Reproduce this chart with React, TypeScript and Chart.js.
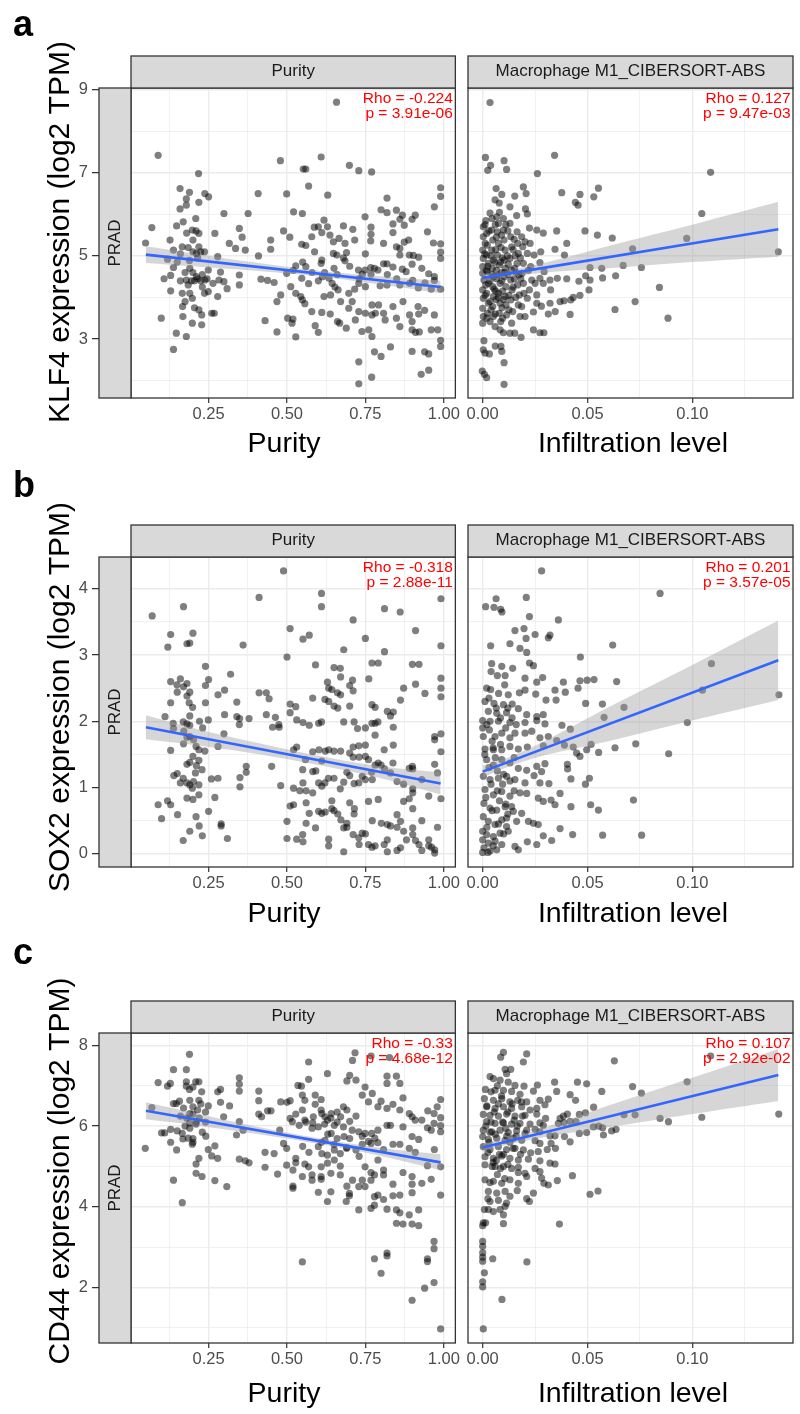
import React, { useEffect, useRef } from 'react';
import { Chart, registerables } from 'chart.js';

Chart.register(...registerables);
const FONT = "'Liberation Sans', Arial, Helvetica, sans-serif";
Chart.defaults.font.family = FONT;

type Pt = [number, number];

// ---------- axis ticks ----------
const purityTicks = [0.125, 0.25, 0.375, 0.5, 0.625, 0.75, 0.875, 1.0];
const purityMajor = [0.25, 0.5, 0.75, 1.0];
const infilTicks = [0, 0.025, 0.05, 0.075, 0.1, 0.125];
const infilMajor = [0, 0.05, 0.1];
const klf4YTicks = [2, 3, 4, 5, 6, 7, 8, 9];
const klf4YMajor = [3, 5, 7, 9];
const sox2YTicks = [0, 0.5, 1, 1.5, 2, 2.5, 3, 3.5, 4];
const sox2YMajor = [0, 1, 2, 3, 4];
const cd44YTicks = [1, 2, 3, 4, 5, 6, 7, 8];
const cd44YMajor = [2, 4, 6, 8];

// ---------- annotations ----------
const statsText = [
  ['Rho = -0.224', 'p = 3.91e-06'],
  ['Rho = 0.127', 'p = 9.47e-03'],
  ['Rho = -0.318', 'p = 2.88e-11'],
  ['Rho = 0.201', 'p = 3.57e-05'],
  ['Rho = -0.33', 'p = 4.68e-12'],
  ['Rho = 0.107', 'p = 2.92e-02'],
];

// ---------- regression lines and confidence bands ----------
const purityBandX = [0.05, 0.2, 0.4, 0.6, 0.8, 0.99];
const infilBandX = [0, 0.012, 0.03, 0.06, 0.1, 0.141];

const klf4PurityLine: Pt[] = [[0.05, 5.03], [0.99, 4.25]];
const klf4PurityUpper = [5.23, 5.06, 4.84, 4.645, 4.51, 4.4];
const klf4PurityLower = [4.83, 4.75, 4.64, 4.505, 4.31, 4.1];
const klf4MacLine: Pt[] = [[0, 4.47], [0.141, 5.64]];
const klf4MacUpper = [4.57, 4.65, 4.84, 5.24, 5.75, 6.3];
const klf4MacLower = [4.37, 4.49, 4.6, 4.7, 4.85, 4.98];

const sox2PurityLine: Pt[] = [[0.05, 1.91], [0.99, 1.06]];
const sox2PurityUpper = [2.09, 1.9, 1.68, 1.48, 1.32, 1.225];
const sox2PurityLower = [1.73, 1.645, 1.51, 1.34, 1.14, 0.895];
const sox2MacLine: Pt[] = [[0, 1.24], [0.141, 2.92]];
const sox2MacUpper = [1.33, 1.45, 1.71, 2.21, 2.85, 3.52];
const sox2MacLower = [1.15, 1.31, 1.49, 1.7, 2.01, 2.32];

const cd44PurityLine: Pt[] = [[0.05, 6.38], [0.99, 5.1]];
const cd44PurityUpper = [6.59, 6.33, 5.99, 5.7, 5.46, 5.3];
const cd44PurityLower = [6.17, 6.03, 5.81, 5.56, 5.26, 4.905];
const cd44MacLine: Pt[] = [[0, 5.47], [0.141, 7.27]];
const cd44MacUpper = [5.57, 5.7, 5.97, 6.51, 7.2, 7.915];
const cd44MacLower = [5.37, 5.54, 5.73, 5.97, 6.3, 6.625];

// ---------- scatter points ----------
const klf4PurityPts: Pt[] = [
  [0.089,7.42],[0.658,8.70],[0.479,7.29],[0.609,7.38],[0.552,7.09],[0.560,7.09],[0.699,7.18],[0.729,7.05],[0.770,7.02],[0.218,6.98],
  [0.159,6.62],[0.189,6.53],[0.238,6.50],[0.250,6.42],[0.179,6.37],[0.219,6.29],[0.179,6.22],[0.159,6.13],[0.408,6.50],[0.499,6.49],
  [0.569,6.68],[0.630,6.46],[0.819,6.39],[0.990,6.64],[0.990,6.43],[0.970,6.18],[0.800,6.11],[0.819,6.04],[0.849,6.10],[0.868,5.98],
  [0.909,5.98],[0.899,5.88],[0.860,5.88],[0.838,5.77],[0.874,5.74],[0.838,5.56],[0.948,5.58],[0.749,5.94],[0.768,5.69],[0.768,5.52],
  [0.767,5.36],[0.710,5.64],[0.680,5.72],[0.618,5.86],[0.587,5.69],[0.600,5.70],[0.629,5.70],[0.611,5.56],[0.637,5.50],[0.579,5.46],
  [0.666,5.42],[0.648,5.34],[0.716,5.38],[0.685,5.30],[0.808,5.30],[0.874,5.33],[0.967,5.31],[0.990,5.29],[0.849,5.22],[0.860,5.18],
  [0.860,5.02],[0.890,5.02],[0.920,4.97],[0.903,5.01],[0.990,5.09],[0.990,4.94],[0.899,4.80],[0.808,4.81],[0.819,4.81],[0.790,4.66],
  [0.779,4.70],[0.767,4.72],[0.749,4.66],[0.728,4.66],[0.740,4.56],[0.768,4.56],[0.838,4.73],[0.868,4.68],[0.952,4.57],[0.970,4.50],
  [0.970,4.41],[0.901,4.41],[0.990,4.20],[0.960,4.20],[0.919,4.23],[0.891,4.34],[0.860,4.30],[0.819,4.30],[0.797,4.28],[0.750,4.26],
  [0.729,4.34],[0.716,4.20],[0.697,4.10],[0.663,4.18],[0.653,4.25],[0.644,4.34],[0.634,4.46],[0.613,4.50],[0.611,4.90],[0.609,4.82],
  [0.685,4.88],[0.690,5.08],[0.659,5.02],[0.648,5.06],[0.588,5.10],[0.560,5.25],[0.547,5.28],[0.528,4.76],[0.560,4.74],[0.547,4.46],
  [0.569,4.33],[0.528,4.10],[0.544,4.02],[0.512,4.26],[0.499,4.58],[0.509,5.45],[0.489,5.60],[0.521,6.06],[0.549,6.02],[0.448,5.38],
  [0.448,5.16],[0.409,5.00],[0.417,4.44],[0.438,4.41],[0.459,4.36],[0.480,4.06],[0.468,3.90],[0.502,3.50],[0.519,3.48],[0.516,3.38],
  [0.468,3.17],[0.528,3.05],[0.549,3.94],[0.557,3.85],[0.579,3.66],[0.590,3.32],[0.600,3.16],[0.611,3.64],[0.638,3.60],[0.618,4.02],
  [0.639,4.06],[0.671,3.90],[0.697,3.74],[0.708,3.90],[0.729,3.66],[0.750,3.62],[0.771,3.58],[0.771,3.82],[0.792,3.82],[0.782,3.62],
  [0.661,3.42],[0.668,3.38],[0.689,3.26],[0.718,3.46],[0.739,3.18],[0.761,3.22],[0.771,3.06],[0.808,3.62],[0.813,3.46],[0.838,3.78],
  [0.849,3.50],[0.860,3.30],[0.870,3.90],[0.891,3.58],[0.899,3.42],[0.918,3.78],[0.939,3.69],[0.920,3.60],[0.899,3.22],[0.910,3.16],
  [0.922,3.17],[0.960,3.22],[0.981,3.22],[0.970,3.58],[0.990,2.97],[0.990,2.82],[0.830,2.81],[0.779,2.69],[0.800,2.58],[0.729,2.45],
  [0.899,2.70],[0.939,2.69],[0.952,2.64],[0.770,2.08],[0.729,1.92],[0.952,2.25],[0.928,2.15],[0.888,5.38],
  [0.049,5.31],[0.069,5.68],[0.099,3.50],[0.108,4.45],[0.119,4.92],[0.127,5.38],[0.129,4.53],[0.129,4.16],[0.138,5.14],[0.138,4.72],
  [0.148,5.72],[0.147,3.14],[0.138,2.75],[0.169,5.82],[0.166,5.22],[0.166,4.10],[0.167,3.78],[0.168,3.54],[0.179,3.06],[0.179,4.42],
  [0.189,4.89],[0.190,4.70],[0.198,5.62],[0.200,5.38],[0.198,3.98],[0.198,3.38],[0.209,5.90],[0.211,5.06],[0.211,4.50],[0.219,5.54],
  [0.219,5.22],[0.219,3.70],[0.228,3.58],[0.228,3.34],[0.237,5.10],[0.238,4.42],[0.237,4.10],[0.249,4.66],[0.249,4.14],[0.260,3.62],
  [0.268,3.62],[0.270,5.54],[0.279,4.98],[0.279,4.02],[0.288,4.61],[0.299,6.02],[0.299,4.38],[0.309,4.21],[0.316,5.30],[0.336,5.18],
  [0.348,5.66],[0.348,4.54],[0.348,4.30],[0.357,5.45],[0.367,5.14],[0.376,6.02],[0.430,3.44],[0.283,4.42],[0.264,4.34],
  [0.150,4.85],[0.160,5.05],[0.175,4.60],[0.185,4.30],[0.195,4.40],[0.205,4.40],[0.215,4.45],[0.225,4.40],[0.185,5.20],[0.200,5.10],
  [0.215,4.95],[0.230,4.55],[0.175,3.90],[0.205,3.75],[0.190,4.10],[0.230,4.25],[0.160,4.40],[0.245,4.45],[0.200,4.60],[0.180,5.55],
  [0.210,5.60],[0.225,5.10],[0.620,4.60],[0.650,4.70],[0.700,4.75],[0.730,4.45],[0.660,4.55],[0.580,4.60],[0.600,4.40],[0.520,4.65],
  [0.550,4.85],[0.820,4.55],[0.850,4.45],[0.880,4.62],[0.930,4.70],[0.940,4.35],[0.680,4.95],[0.750,5.05],
];

const klf4MacPts: Pt[] = [
  [0.0035,8.69],[0.0013,7.37],[0.0038,7.18],[0.0024,7.06],[0.0102,7.29],[0.0114,7.08],[0.0343,7.42],[0.0261,6.98],[0.1087,7.01],[0.0064,6.62],
  [0.0091,6.48],[0.0194,6.66],[0.0207,6.50],[0.0153,6.44],[0.0377,6.52],[0.0464,6.48],[0.0552,6.63],[0.0530,6.42],[0.0442,6.29],[0.0455,6.22],
  [0.1045,6.02],[0.0059,6.35],[0.0079,6.27],[0.0130,6.18],[0.0204,6.13],[0.0035,6.03],[0.0213,6.01],[0.0162,5.97],[0.0099,5.90],[0.0011,5.75],
  [0.0075,5.78],[0.0223,5.67],[0.0258,5.62],[0.0289,5.55],[0.0353,5.60],[0.0488,5.60],[0.0547,5.50],[0.0618,5.43],[0.0973,5.42],[0.1410,5.10],
  [0.0715,5.17],[0.0757,4.72],[0.0670,4.77],[0.0568,4.70],[0.0512,4.72],[0.0634,4.52],[0.0572,4.47],[0.0491,4.52],[0.0512,4.42],[0.0459,4.39],
  [0.0401,4.45],[0.0356,4.46],[0.0321,4.42],[0.0293,4.62],[0.0273,4.46],[0.0345,5.16],[0.0401,5.30],[0.0390,5.02],[0.0277,5.10],[0.0245,5.02],
  [0.0213,5.06],[0.0273,4.84],[0.0218,4.65],[0.0194,4.34],[0.0223,4.18],[0.0258,4.06],[0.0280,3.79],[0.0242,3.65],[0.0202,3.54],[0.0242,3.22],
  [0.0273,3.15],[0.0292,3.15],[0.0324,4.18],[0.0321,3.86],[0.0313,3.60],[0.0346,3.66],[0.0369,3.90],[0.0388,3.92],[0.0420,3.94],[0.0432,4.00],
  [0.0464,4.05],[0.0507,4.18],[0.0417,3.59],[0.0631,3.71],[0.0727,3.90],[0.0843,4.24],[0.0884,3.50],[0.0186,3.78],[0.0183,3.04],[0.0153,3.14],
  [0.0130,3.14],[0.0099,3.15],[0.0083,3.22],[0.0060,2.83],[0.0087,2.82],[0.0091,2.70],[0.0102,2.43],[0.0006,2.96],[0.0003,2.74],[0.0011,2.66],
  [0.0032,2.64],[-0.0002,2.23],[0.0008,2.15],[0.0019,2.07],[0.0102,1.91],
  [0.0003,5.70],[0.0003,5.46],[0.0000,5.14],[0.0003,4.94],[0.0000,4.74],[0.0000,4.58],[0.0006,4.42],[0.0000,4.18],[0.0003,3.98],[0.0000,3.74],
  [0.0003,3.54],[0.0000,3.38],[0.0019,5.54],[0.0022,5.26],[0.0019,5.02],[0.0027,4.82],[0.0022,4.62],[0.0027,4.34],[0.0019,4.10],[0.0027,3.86],
  [0.0022,3.62],[0.0035,3.42],[0.0043,5.62],[0.0048,5.38],[0.0043,5.14],[0.0051,4.90],[0.0046,4.70],[0.0051,4.50],[0.0048,4.26],[0.0051,4.02],
  [0.0048,3.78],[0.0051,3.54],[0.0059,3.30],[0.0067,5.94],[0.0070,5.58],[0.0075,5.30],[0.0070,5.02],[0.0079,4.78],[0.0075,4.54],[0.0083,4.34],
  [0.0076,4.10],[0.0083,3.86],[0.0079,3.62],[0.0086,3.42],[0.0099,5.62],[0.0102,5.38],[0.0107,5.14],[0.0102,4.90],[0.0108,4.70],[0.0103,4.50],
  [0.0111,4.26],[0.0107,4.02],[0.0111,3.82],[0.0114,3.58],[0.0130,5.78],[0.0134,5.46],[0.0138,5.22],[0.0130,4.94],[0.0137,4.66],[0.0134,4.42],
  [0.0140,4.18],[0.0134,3.94],[0.0143,3.66],[0.0138,3.38],[0.0164,5.58],[0.0167,5.30],[0.0170,5.06],[0.0164,4.82],[0.0173,4.54],[0.0167,4.30],
  [0.0175,4.06],[0.0170,3.82],[0.0178,3.54],[0.0186,5.46],[0.0191,5.22],[0.0194,4.82],[0.0188,4.58],[0.0197,4.10],[0.0202,5.34],[0.0226,5.30],
  [0.0229,4.74],[0.0234,4.42],[0.0250,4.34],[0.0258,3.86],[0.0213,3.98],[0.0289,4.34],
  [0.0015,5.85],[0.0030,5.60],[0.0012,5.30],[0.0040,5.00],[0.0018,4.65],[0.0035,4.40],[0.0012,4.05],[0.0040,3.70],[0.0060,5.75],[0.0065,5.45],
  [0.0062,5.15],[0.0058,4.85],[0.0066,4.45],[0.0062,4.15],[0.0064,3.95],[0.0090,5.50],[0.0088,5.20],[0.0094,4.95],[0.0090,4.60],[0.0092,4.40],
  [0.0095,4.15],[0.0092,3.75],[0.0120,5.60],[0.0118,5.00],[0.0122,4.80],[0.0120,4.55],[0.0125,4.05],[0.0150,5.40],[0.0155,5.00],[0.0152,4.70],
  [0.0150,4.45],[0.0158,4.00],[0.0180,4.95],[0.0182,4.45],
  [0.0010,5.05],[0.0025,4.75],[0.0045,4.55],[0.0065,4.65],[0.0085,4.85],[0.0105,4.60],[0.0015,4.30],[0.0055,4.20],[0.0075,4.00],[0.0100,3.95],
  [0.0035,3.90],[0.0020,3.50],[0.0060,3.60],[0.0095,3.50],[0.0125,3.70],[0.0145,4.25],[0.0160,4.60],[0.0145,5.15],[0.0110,5.75],[0.0080,6.05],
  [0.0045,5.90],
];

const sox2PurityPts: Pt[] = [
  [0.489,4.27],[0.070,3.59],[0.170,3.73],[0.411,3.87],[0.610,3.93],[0.610,3.73],[0.811,3.70],[0.861,3.65],[0.991,3.85],[0.711,3.53],
  [0.510,3.40],[0.571,3.30],[0.551,3.24],[0.750,3.25],[0.910,3.37],[0.991,3.14],[0.129,3.31],[0.120,3.12],[0.200,3.33],[0.181,3.17],
  [0.190,3.18],[0.360,3.15],[0.500,2.97],[0.681,3.08],[0.811,3.05],[0.240,2.83],[0.591,2.85],[0.771,2.88],[0.791,2.88],[0.900,2.86],
  [0.921,2.86],[0.320,2.71],[0.650,2.81],[0.670,2.80],[0.671,2.67],[0.629,2.59],[0.709,2.62],[0.761,2.64],[0.991,2.65],[0.991,2.50],
  [0.991,2.37],[0.910,2.56],[0.872,2.50],[0.940,2.42],[0.862,2.32],[0.700,2.54],[0.711,2.46],[0.643,2.48],[0.633,2.50],[0.661,2.43],
  [0.671,2.40],[0.621,2.33],[0.633,2.30],[0.582,2.35],[0.650,2.23],[0.662,2.20],[0.700,2.23],[0.771,2.25],[0.781,2.21],[0.820,2.15],
  [0.839,2.14],[0.830,2.08],[0.781,1.97],[0.790,1.99],[0.771,1.97],[0.839,1.91],[0.714,1.99],[0.725,1.89],[0.750,1.90],[0.781,1.79],
  [0.839,1.64],[0.681,1.99],[0.610,1.99],[0.601,1.97],[0.571,1.94],[0.551,1.98],[0.531,2.02],[0.510,2.13],[0.528,2.22],[0.510,2.26],
  [0.463,2.06],[0.474,1.95],[0.475,1.91],[0.454,1.91],[0.434,2.10],[0.443,2.34],[0.434,2.43],[0.411,2.43],[0.379,2.04],[0.349,2.04],
  [0.348,1.95],[0.340,2.07],[0.340,2.29],[0.301,2.47],[0.280,2.40],[0.301,2.10],[0.299,1.81],[0.280,1.62],[0.250,2.63],[0.240,2.54],
  [0.240,2.28],[0.249,2.02],[0.238,1.55],[0.221,2.00],[0.231,1.90],[0.219,1.57],[0.219,1.41],[0.211,1.33],[0.219,0.89],[0.229,1.27],
  [0.208,1.22],[0.210,0.56],[0.200,0.82],[0.181,0.84],[0.181,1.07],[0.190,1.04],[0.198,0.99],[0.202,1.09],[0.219,1.04],[0.181,1.35],
  [0.190,1.38],[0.200,1.47],[0.210,1.62],[0.202,1.72],[0.190,1.77],[0.181,1.76],[0.170,1.66],[0.171,1.85],[0.181,1.96],[0.190,1.94],
  [0.190,2.08],[0.199,2.21],[0.188,2.28],[0.181,2.38],[0.190,2.44],[0.181,2.57],[0.170,2.52],[0.150,2.44],[0.149,2.55],[0.160,2.64],
  [0.129,2.60],[0.129,2.28],[0.111,2.07],[0.137,1.97],[0.138,1.89],[0.169,1.99],[0.129,1.56],[0.139,1.18],[0.150,1.21],[0.160,1.07],
  [0.169,1.14],[0.089,0.74],[0.129,0.74],[0.119,0.80],[0.100,0.53],[0.151,0.59],[0.190,0.34],[0.169,0.20],[0.220,0.42],[0.230,0.27],
  [0.250,0.64],[0.270,0.85],[0.259,1.13],[0.280,1.14],[0.290,0.45],[0.290,0.42],[0.310,0.23],[0.350,1.15],[0.350,1.01],[0.370,1.32],
  [0.370,1.23],[0.451,1.32],[0.480,1.03],[0.500,0.49],[0.500,0.23],[0.510,0.72],[0.521,0.74],[0.531,0.22],[0.550,0.29],[0.551,0.18],
  [0.561,0.77],[0.561,0.46],[0.571,0.61],[0.582,0.92],[0.591,0.39],[0.601,0.64],[0.611,0.61],[0.622,0.63],[0.633,0.22],[0.633,0.12],
  [0.643,0.68],[0.643,0.80],[0.650,0.65],[0.662,0.60],[0.672,0.51],[0.681,0.39],[0.681,0.03],[0.691,0.46],[0.691,0.40],[0.700,0.77],
  [0.711,0.29],[0.714,0.60],[0.715,0.68],[0.729,0.24],[0.730,0.14],[0.740,0.31],[0.750,0.30],[0.760,0.79],[0.760,0.14],[0.771,0.10],
  [0.781,0.12],[0.772,0.50],[0.791,0.82],[0.801,0.46],[0.820,0.44],[0.820,0.21],[0.820,0.03],[0.810,0.14],[0.830,0.42],[0.851,0.59],
  [0.851,0.40],[0.862,0.49],[0.862,0.09],[0.851,0.05],[0.872,0.34],[0.872,0.79],[0.881,0.21],[0.890,0.83],[0.901,0.39],[0.901,0.68],
  [0.901,0.29],[0.910,0.20],[0.921,0.14],[0.930,0.50],[0.930,0.05],[0.952,0.21],[0.961,0.10],[0.971,0.06],[0.971,0.01],[0.980,0.40],
  [0.991,0.83],[0.952,0.12],[0.890,1.29],[0.900,1.32],[0.901,0.98],[0.901,0.92],[0.838,1.37],[0.800,1.34],[0.811,1.28],[0.781,1.34],
  [0.770,1.23],[0.772,1.12],[0.750,1.12],[0.740,1.17],[0.729,1.07],[0.714,1.06],[0.700,1.18],[0.711,1.61],[0.729,1.63],[0.750,1.64],
  [0.691,1.23],[0.681,1.08],[0.670,0.98],[0.650,1.14],[0.632,1.14],[0.621,1.07],[0.611,1.02],[0.601,1.07],[0.592,1.25],[0.611,1.40],
  [0.582,1.24],[0.559,1.42],[0.550,1.27],[0.551,1.07],[0.541,0.95],[0.561,0.95],[0.521,0.99],[0.521,1.57],[0.531,1.61],[0.582,1.54],
  [0.602,1.57],[0.622,1.55],[0.633,1.57],[0.650,1.55],[0.671,1.55],[0.700,1.52],[0.711,1.46],[0.730,1.46],[0.750,1.47],[0.760,1.42],
  [0.791,1.37],[0.810,1.57],[0.830,1.22],[0.851,1.09],[0.872,1.05],[0.971,1.35],[0.971,1.72],[0.971,1.77],[0.991,1.81],[0.991,1.54],
  [0.980,1.22],[0.952,0.87],[0.930,1.12],[0.901,1.28],
];

const sox2MacPts: Pt[] = [
  [0.0281,4.27],[0.0846,3.93],[0.0014,3.73],[0.0054,3.72],[0.0064,3.85],[0.0086,3.69],[0.0092,3.65],[0.0208,3.87],[0.0223,3.58],[0.0361,3.53],
  [0.0154,3.37],[0.0197,3.40],[0.0250,3.31],[0.0321,3.30],[0.0313,3.26],[0.0130,3.17],[0.0207,3.25],[0.0178,3.10],[0.0210,3.04],[0.0038,3.14],
  [0.0620,3.15],[0.0466,2.97],[0.1091,2.87],[0.0043,2.87],[0.0091,2.83],[0.0143,2.80],[0.0223,2.88],[0.0242,2.84],[0.0070,2.69],[0.0107,2.69],
  [0.0202,2.65],[0.0258,2.59],[0.0286,2.66],[0.0385,2.59],[0.0464,2.61],[0.0498,2.62],[0.0531,2.63],[0.0639,2.60],[0.0019,2.50],[0.0038,2.48],
  [0.0076,2.42],[0.0122,2.40],[0.0175,2.43],[0.0202,2.47],[0.0253,2.41],[0.0302,2.32],[0.0345,2.47],[0.0394,2.44],[0.0455,2.50],[0.0350,2.32],
  [0.0491,2.27],[0.0571,2.26],[0.0674,2.21],[0.1048,2.47],[0.1413,2.40],[0.0579,2.06],[0.0976,1.98],[0.0011,2.30],[0.0054,2.27],[0.0099,2.25],
  [0.0141,2.26],[0.0027,2.15],[0.0067,2.12],[0.0114,2.13],[0.0170,2.19],[0.0210,2.10],[0.0258,2.07],[0.0289,2.10],[0.0297,1.96],[0.0258,2.01],
  [0.0202,1.98],[0.0000,2.01],[0.0035,2.00],[0.0075,2.00],[0.0130,1.98],[0.0000,1.90],[0.0003,1.77],[0.0032,1.87],[0.0059,1.77],[0.0091,1.82],
  [0.0130,1.75],[0.0154,1.82],[0.0202,1.82],[0.0234,1.85],[0.0273,1.75],[0.0313,1.77],[0.0378,1.94],[0.0418,1.88],[0.0353,1.71],[0.0390,1.64],
  [0.0289,1.63],[0.0011,1.58],[0.0051,1.57],[0.0091,1.57],[0.0130,1.62],[0.0170,1.58],[0.0213,1.61],[0.0432,1.61],[0.0448,1.52],[0.0464,1.47],
  [0.0496,1.57],[0.0517,1.65],[0.0553,1.53],[0.0631,1.60],[0.0730,1.66],[0.0887,1.51],[0.0019,1.42],[0.0051,1.34],[0.0091,1.42],[0.0130,1.37],
  [0.0170,1.29],[0.0210,1.26],[0.0258,1.32],[0.0297,1.36],[0.0281,1.24],[0.0245,1.18],[0.0404,1.35],[0.0405,1.28],[0.0003,1.17],[0.0035,1.12],
  [0.0075,1.14],[0.0114,1.17],[0.0154,1.12],[0.0202,1.07],[0.0273,1.07],[0.0316,1.06],[0.0421,1.13],[0.0509,1.14],[0.0490,1.05],[0.0011,0.97],
  [0.0051,0.89],[0.0091,0.94],[0.0130,0.87],[0.0178,0.92],[0.0210,0.91],[0.0265,0.84],[0.0289,0.79],[0.0326,0.81],[0.0345,0.74],[0.0369,0.91],
  [0.0421,0.71],[0.0515,0.74],[0.0552,0.66],[0.0719,0.81],[0.0006,0.76],[0.0035,0.69],[0.0067,0.66],[0.0107,0.71],[0.0146,0.64],[0.0186,0.61],
  [0.0218,0.49],[0.0242,0.46],[0.0265,0.44],[0.0003,0.56],[0.0027,0.49],[0.0059,0.44],[0.0091,0.51],[0.0114,0.41],[0.0000,0.34],[0.0019,0.29],
  [0.0051,0.26],[0.0083,0.31],[0.0122,0.34],[0.0000,0.21],[0.0027,0.16],[0.0059,0.19],[0.0091,0.14],[0.0006,0.09],[0.0035,0.04],[0.0067,0.06],
  [0.0000,0.02],[0.0154,0.11],[0.0170,0.06],[0.0213,0.18],[0.0258,0.14],[0.0289,0.27],[0.0329,0.20],[0.0369,0.38],[0.0429,0.29],[0.0572,0.28],
  [0.0758,0.28],[0.0114,0.54],[0.0162,0.49],[0.0138,0.71],
  [0.0020,1.95],[0.0045,1.70],[0.0085,1.65],[0.0110,1.90],[0.0060,1.45],[0.0100,1.20],[0.0040,1.05],[0.0080,0.80],[0.0120,0.60],[0.0150,1.45],
  [0.0160,1.95],[0.0140,2.05],[0.0030,2.35],[0.0070,0.95],[0.0100,0.30],[0.0050,0.12],
  [0.0010,1.50],[0.0030,1.30],[0.0050,1.60],[0.0070,1.25],[0.0095,1.05],[0.0015,0.85],[0.0045,0.65],[0.0075,0.45],[0.0020,0.40],[0.0110,0.75],
  [0.0130,1.10],[0.0150,0.95],[0.0065,2.20],[0.0085,2.05],[0.0120,2.20],[0.0040,2.75],[0.0105,2.55],[0.0025,0.02],
];

const cd44PurityPts: Pt[] = [
  [0.048,5.45],[0.069,6.46],[0.089,7.08],[0.100,5.83],[0.110,5.83],[0.119,6.99],[0.128,7.06],[0.129,5.92],[0.129,5.60],[0.138,4.66],
  [0.138,7.40],[0.138,6.56],[0.147,6.56],[0.148,5.41],[0.157,6.62],[0.166,5.82],[0.166,4.10],[0.168,5.68],[0.179,7.40],[0.179,7.10],
  [0.179,6.99],[0.189,7.78],[0.189,6.91],[0.190,6.64],[0.190,6.31],[0.190,6.08],[0.200,6.48],[0.200,6.97],[0.200,5.69],[0.198,5.55],
  [0.209,7.10],[0.211,6.11],[0.210,5.06],[0.210,4.83],[0.219,7.10],[0.219,6.64],[0.219,5.20],[0.228,6.85],[0.229,4.75],[0.240,6.35],
  [0.241,5.75],[0.249,6.50],[0.249,5.42],[0.260,5.26],[0.270,4.65],[0.270,5.51],[0.279,5.20],[0.279,6.85],[0.288,6.91],[0.288,6.59],
  [0.298,6.23],[0.317,6.50],[0.308,4.50],[0.348,7.20],[0.348,7.04],[0.348,6.87],[0.348,6.11],[0.348,5.18],[0.367,5.14],[0.379,5.09],
  [0.339,5.78],[0.360,5.90],[0.410,6.87],[0.410,6.63],[0.410,6.30],[0.419,6.23],[0.438,6.38],[0.449,6.38],[0.430,5.35],[0.430,4.98],
  [0.459,5.32],[0.470,4.81],[0.477,5.90],[0.480,6.60],[0.500,6.59],[0.510,6.63],[0.489,5.57],[0.499,5.45],[0.499,5.03],[0.519,4.91],
  [0.519,4.51],[0.519,4.46],[0.510,6.19],[0.517,6.11],[0.528,6.30],[0.528,5.20],[0.528,5.09],[0.535,7.01],[0.546,6.99],[0.549,6.77],
  [0.557,6.64],[0.549,6.40],[0.557,6.15],[0.539,6.02],[0.569,7.59],[0.569,7.16],[0.590,6.77],[0.590,6.54],[0.609,6.66],[0.609,6.40],
  [0.584,6.23],[0.582,6.08],[0.600,5.98],[0.629,7.30],[0.611,6.31],[0.621,6.23],[0.629,6.15],[0.641,6.31],[0.660,6.35],[0.671,6.23],
  [0.651,6.02],[0.680,6.48],[0.691,6.40],[0.700,7.26],[0.691,7.12],[0.720,7.14],[0.709,7.63],[0.717,7.82],[0.768,7.74],[0.827,7.70],
  [0.819,7.24],[0.819,7.06],[0.849,7.24],[0.860,7.06],[0.749,6.97],[0.740,6.77],[0.772,6.81],[0.760,6.60],[0.800,6.62],[0.790,6.48],
  [0.819,6.44],[0.838,6.54],[0.870,6.70],[0.860,6.40],[0.890,6.31],[0.909,6.15],[0.899,6.23],[0.930,6.15],[0.949,6.38],[0.969,6.31],
  [0.979,6.48],[0.990,6.66],[0.990,6.21],[0.948,5.96],[0.969,6.07],[0.990,6.01],[0.990,5.86],[0.960,5.90],[0.899,5.74],[0.920,5.67],
  [0.870,5.98],[0.830,6.02],[0.819,6.02],[0.790,5.90],[0.770,5.82],[0.749,5.82],[0.729,5.86],[0.708,5.90],[0.700,5.69],[0.682,5.74],
  [0.660,5.69],[0.641,5.82],[0.621,5.65],[0.600,5.49],[0.611,5.32],[0.629,5.28],[0.651,5.41],[0.670,5.32],[0.691,5.47],[0.720,5.41],
  [0.740,5.55],[0.768,5.57],[0.790,5.59],[0.808,5.42],[0.838,5.55],[0.860,5.55],[0.890,5.45],[0.909,5.35],[0.970,5.42],[0.948,5.02],
  [0.990,4.99],[0.990,4.29],[0.960,4.68],[0.930,4.58],[0.899,4.75],[0.899,4.56],[0.899,4.35],[0.870,4.85],[0.860,4.29],[0.838,4.56],
  [0.838,4.27],[0.808,4.91],[0.808,4.79],[0.790,5.16],[0.779,4.79],[0.768,4.85],[0.768,4.66],[0.749,4.99],[0.749,4.50],[0.740,4.66],
  [0.729,4.50],[0.709,4.66],[0.691,4.51],[0.699,4.33],[0.699,4.27],[0.689,4.13],[0.670,4.79],[0.670,5.01],[0.651,5.16],[0.640,4.83],
  [0.629,5.08],[0.609,4.99],[0.609,4.75],[0.609,4.68],[0.600,4.36],[0.580,4.79],[0.580,4.66],[0.569,4.99],[0.557,5.06],[0.549,4.75],
  [0.640,4.37],[0.629,4.13],[0.729,3.92],[0.768,3.96],[0.779,4.04],[0.779,4.25],[0.790,4.29],[0.808,4.18],[0.819,3.94],[0.849,3.92],
  [0.860,3.85],[0.849,3.59],[0.870,3.57],[0.890,3.80],[0.899,3.57],[0.920,3.53],[0.920,3.92],[0.779,2.71],[0.819,2.85],[0.819,2.78],
  [0.800,2.35],[0.948,2.71],[0.948,2.64],[0.969,3.14],[0.969,2.96],[0.969,2.12],[0.939,1.98],[0.899,1.68],[0.990,0.97],[0.549,2.63],
  [0.170,6.45],[0.180,6.20],[0.190,5.95],[0.200,6.30],[0.210,6.05],[0.220,6.20],[0.230,5.85],[0.185,5.70],[0.200,5.60],[0.215,6.40],
  [0.225,6.55],[0.175,6.00],[0.240,6.10],[0.150,5.88],[0.160,6.25],[0.560,6.10],[0.580,5.95],[0.620,6.05],[0.640,6.20],[0.660,6.10],
  [0.680,5.98],[0.700,6.12],[0.720,6.25],[0.740,5.75],[0.760,5.62],[0.780,5.70],[0.630,5.80],[0.650,5.55],[0.610,5.60],[0.570,5.35],
  [0.690,5.45],[0.730,5.25],[0.550,5.50],
];

const cd44MacPts: Pt[] = [
  [0.0099,7.83],[0.0086,7.71],[0.0210,7.79],[0.0194,7.59],[0.0628,7.62],[0.1087,7.74],[0.0107,7.41],[0.0134,7.41],[0.0114,7.30],[0.0035,7.23],
  [0.0051,7.18],[0.0083,7.14],[0.0122,7.09],[0.0154,7.01],[0.0197,6.99],[0.0261,7.02],[0.0343,7.09],[0.0452,7.09],[0.0496,7.05],[0.0715,6.98],
  [0.0975,7.10],[0.0013,6.91],[0.0059,6.89],[0.0099,6.89],[0.0138,6.86],[0.0178,6.79],[0.0242,6.87],[0.0353,6.86],[0.0568,6.86],[0.0757,6.82],
  [0.0417,6.78],[0.0008,6.68],[0.0051,6.64],[0.0091,6.68],[0.0130,6.60],[0.0167,6.64],[0.0210,6.60],[0.0273,6.64],[0.0313,6.67],[0.0443,6.64],
  [0.0019,6.48],[0.0059,6.44],[0.0099,6.48],[0.0138,6.44],[0.0186,6.48],[0.0226,6.40],[0.0258,6.44],[0.0297,6.53],[0.0529,6.47],[0.0003,6.29],
  [0.0035,6.27],[0.0075,6.25],[0.0114,6.30],[0.0154,6.25],[0.0202,6.27],[0.0258,6.30],[0.0300,6.19],[0.0369,6.19],[0.0385,6.25],[0.0404,6.30],
  [0.0461,6.29],[0.0490,6.33],[0.0674,6.28],[0.0727,6.28],[0.0846,6.19],[0.0886,6.11],[0.1045,6.22],[0.1412,6.30],[0.0019,6.11],[0.0059,6.07],
  [0.0099,6.08],[0.0138,6.05],[0.0178,6.07],[0.0226,6.05],[0.0273,6.08],[0.0289,6.02],[0.0361,6.07],[0.0388,6.09],[0.0417,6.12],[0.0445,6.11],
  [0.0528,5.98],[0.0553,6.00],[0.0572,5.96],[0.0615,5.88],[0.0636,5.92],[0.0003,5.90],[0.0043,5.86],[0.0083,5.90],[0.0122,5.84],[0.0162,5.88],
  [0.0202,5.82],[0.0250,5.92],[0.0273,5.86],[0.0321,5.76],[0.0345,5.76],[0.0390,5.74],[0.0417,5.61],[0.0461,5.82],[0.0496,5.84],[0.0576,5.78],
  [0.0000,5.74],[0.0027,5.67],[0.0067,5.70],[0.0107,5.65],[0.0146,5.70],[0.0186,5.65],[0.0250,5.64],[0.0273,5.57],[0.0326,5.57],[0.0347,5.45],
  [0.0003,5.49],[0.0035,5.42],[0.0075,5.49],[0.0114,5.42],[0.0154,5.45],[0.0194,5.41],[0.0229,5.34],[0.0265,5.37],[0.0308,5.42],[0.0011,5.24],
  [0.0051,5.20],[0.0091,5.26],[0.0130,5.20],[0.0170,5.16],[0.0218,5.18],[0.0273,5.14],[0.0321,5.08],[0.0345,5.06],[0.0011,5.04],[0.0059,5.00],
  [0.0099,5.00],[0.0138,4.95],[0.0170,4.98],[0.0202,4.83],[0.0250,4.95],[0.0273,4.87],[0.0281,4.71],[0.0292,4.58],[0.0313,4.54],[0.0356,4.65],
  [0.0428,4.77],[0.0011,4.67],[0.0051,4.63],[0.0091,4.58],[0.0130,4.67],[0.0170,4.58],[0.0210,4.75],[0.0242,4.34],[0.0027,4.38],[0.0067,4.34],
  [0.0107,4.38],[0.0130,4.26],[0.0165,4.40],[0.0512,4.31],[0.0550,4.39],[0.0035,4.13],[0.0075,4.16],[0.0114,4.09],[0.0210,4.20],[0.0223,4.13],
  [0.0008,3.93],[0.0027,3.93],[0.0051,3.88],[0.0083,3.93],[0.0107,4.01],[0.0099,3.80],[0.0003,3.60],[0.0000,3.53],[0.0014,3.60],[0.0099,3.58],
  [0.0366,3.57],[0.0000,3.14],[0.0000,3.02],[0.0000,2.86],[0.0000,2.75],[0.0048,2.71],[0.0000,2.65],[0.0008,2.36],[0.0000,2.14],[0.0000,2.01],
  [0.0211,2.63],[0.0092,1.70],[0.0003,0.97],
  [0.0020,6.50],[0.0040,6.10],[0.0060,5.80],[0.0030,5.60],[0.0080,5.30],[0.0050,5.10],[0.0070,4.80],[0.0120,6.35],[0.0110,5.95],[0.0130,5.60],
  [0.0100,5.30],[0.0120,5.05],[0.0150,6.15],[0.0160,5.75],[0.0180,5.30],[0.0170,4.85],[0.0090,6.75],[0.0140,6.55],[0.0190,6.25],[0.0210,5.90],
  [0.0040,6.85],[0.0070,7.00],
  [0.0015,6.00],[0.0035,5.85],[0.0055,6.35],[0.0075,6.55],[0.0095,6.10],[0.0115,5.75],[0.0025,5.35],[0.0045,5.00],[0.0065,5.15],[0.0085,4.95],
  [0.0105,4.70],[0.0035,4.60],[0.0025,4.20],[0.0145,5.45],[0.0165,6.00],[0.0185,6.60],
];

// ---------- layout ----------
interface Spec {
  side: 'left' | 'right';
  cx: number; cy: number; cw: number; ch: number;
  area: { left: number; top: number; right: number; bottom: number };
  xMin: number; xMax: number; xTicks: number[]; xMajor: number[];
  yMin: number; yMax: number; yTicks: number[]; yMajor: number[];
  pts: Pt[]; line: Pt[]; bandX: number[]; upper: number[]; lower: number[];
  stats: string[]; stripTop: string; xTitle: string; xTitleX: number; xTitleDy: number;
  letter?: string; letterY?: number; yTitle?: string; yTitleY?: number;
}

const rows = [
  { cy: 0, ch: 470, top: 88, bottom: 398, yMin: 1.58, yMax: 9.04, yTicks: klf4YTicks, yMajor: klf4YMajor,
    letter: 'a', letterY: 36, yTitle: 'KLF4 expression (log2 TPM)', yTitleY: 232, xDy: 54,
    left: [klf4PurityPts, klf4PurityLine, klf4PurityUpper, klf4PurityLower],
    right: [klf4MacPts, klf4MacLine, klf4MacUpper, klf4MacLower] },
  { cy: 470, ch: 470, top: 87, bottom: 397, yMin: -0.2, yMax: 4.48, yTicks: sox2YTicks, yMajor: sox2YMajor,
    letter: 'b', letterY: 27, yTitle: 'SOX2 expression (log2 TPM)', yTitleY: 227, xDy: 54.5,
    left: [sox2PurityPts, sox2PurityLine, sox2PurityUpper, sox2PurityLower],
    right: [sox2MacPts, sox2MacLine, sox2MacUpper, sox2MacLower] },
  { cy: 940, ch: 474, top: 93, bottom: 403, yMin: 0.62, yMax: 8.31, yTicks: cd44YTicks, yMajor: cd44YMajor,
    letter: 'c', letterY: 23.5, yTitle: 'CD44 expression (log2 TPM)', yTitleY: 231, xDy: 59,
    left: [cd44PurityPts, cd44PurityLine, cd44PurityUpper, cd44PurityLower],
    right: [cd44MacPts, cd44MacLine, cd44MacUpper, cd44MacLower] },
];

const specs: Spec[] = [];
rows.forEach((r, i) => {
  specs.push({
    side: 'left', cx: 0, cy: r.cy, cw: 462, ch: r.ch,
    area: { left: 131, top: r.top, right: 457, bottom: r.bottom },
    xMin: 0.0025, xMax: 1.037, xTicks: purityTicks, xMajor: purityMajor,
    yMin: r.yMin, yMax: r.yMax, yTicks: r.yTicks, yMajor: r.yMajor,
    pts: r.left[0] as Pt[], line: r.left[1] as Pt[], bandX: purityBandX,
    upper: r.left[2] as number[], lower: r.left[3] as number[],
    stats: statsText[i * 2], stripTop: 'Purity', xTitle: 'Purity', xTitleX: 284, xTitleDy: r.xDy,
    letter: r.letter, letterY: r.letterY, yTitle: r.yTitle, yTitleY: r.yTitleY,
  });
  specs.push({
    side: 'right', cx: 462, cy: r.cy, cw: 338, ch: r.ch,
    area: { left: 6, top: r.top, right: 331, bottom: r.bottom },
    xMin: -0.007, xMax: 0.148, xTicks: infilTicks, xMajor: infilMajor,
    yMin: r.yMin, yMax: r.yMax, yTicks: r.yTicks, yMajor: r.yMajor,
    pts: r.right[0] as Pt[], line: r.right[1] as Pt[], bandX: infilBandX,
    upper: r.right[2] as number[], lower: r.right[3] as number[],
    stats: statsText[i * 2 + 1], stripTop: 'Macrophage M1_CIBERSORT-ABS', xTitle: 'Infiltration level',
    xTitleX: 171, xTitleDy: r.xDy,
  });
});

const isMaj = (list: number[], v: number) => list.some((m) => Math.abs(m - v) < 1e-9);

function makeDecor(s: Spec) {
  return {
    id: 'decor',
    afterDatasetsDraw(chart: any) {
      const { ctx, chartArea: a } = chart;
      const w = a.right - a.left;
      ctx.save();
      // annotation
      ctx.fillStyle = '#FF0000';
      ctx.font = `15.5px ${FONT}`;
      ctx.textAlign = 'right';
      ctx.textBaseline = 'middle';
      ctx.fillText(s.stats[0], a.right - 2.5, a.top + 11);
      ctx.fillText(s.stats[1], a.right - 2.5, a.top + 26);
      // panel border
      ctx.strokeStyle = '#333333';
      ctx.lineWidth = 1.3;
      ctx.strokeRect(a.left, a.top, w, a.bottom - a.top);
      // top strip
      ctx.fillStyle = '#D9D9D9';
      ctx.fillRect(a.left, a.top - 32, w, 32);
      ctx.strokeRect(a.left, a.top - 32, w, 32);
      ctx.fillStyle = '#1A1A1A';
      ctx.font = `17px ${FONT}`;
      ctx.textAlign = 'center';
      ctx.fillText(s.stripTop, (a.left + a.right) / 2, a.top - 16.5);
      if (s.side === 'left') {
        const sx = a.left - 32;
        ctx.fillStyle = '#D9D9D9';
        ctx.fillRect(sx, a.top, 32, a.bottom - a.top);
        ctx.strokeRect(sx, a.top, 32, a.bottom - a.top);
        ctx.save();
        ctx.translate(sx + 16.5, (a.top + a.bottom) / 2);
        ctx.rotate(-Math.PI / 2);
        ctx.fillStyle = '#1A1A1A';
        ctx.fillText('PRAD', 0, 0);
        ctx.restore();
        // y title
        ctx.save();
        ctx.translate(68.5, s.yTitleY!);
        ctx.rotate(-Math.PI / 2);
        ctx.fillStyle = '#000000';
        ctx.font = `30px ${FONT}`;
        ctx.textAlign = 'center';
        ctx.textBaseline = 'alphabetic';
        ctx.fillText(s.yTitle!, 0, 0);
        ctx.restore();
        // panel letter
        ctx.fillStyle = '#000000';
        ctx.font = `bold 36px ${FONT}`;
        ctx.textAlign = 'left';
        ctx.textBaseline = 'alphabetic';
        ctx.fillText(s.letter!, 13, s.letterY!);
      }
      // x title
      ctx.fillStyle = '#000000';
      ctx.font = `28.5px ${FONT}`;
      ctx.textAlign = 'center';
      ctx.textBaseline = 'alphabetic';
      ctx.fillText(s.xTitle, s.xTitleX, a.bottom + s.xTitleDy);
      ctx.restore();
    },
  };
}

function buildConfig(s: Spec): any {
  const left = s.side === 'left';
  const xH = s.ch - s.area.bottom;
  return {
    type: 'scatter',
    data: {
      datasets: [
        {
          type: 'line', data: s.line.map(([x, y]) => ({ x, y })), borderColor: '#3366FF', borderWidth: 2.6,
          pointRadius: 0, fill: false, order: 1,
        },
        {
          type: 'line', data: s.bandX.map((x, i) => ({ x, y: s.upper[i] })), borderColor: 'rgba(0,0,0,0)', borderWidth: 0,
          backgroundColor: 'rgba(153,153,153,0.4)', pointRadius: 0, fill: '+1', tension: 0.35, order: 2,
        },
        {
          type: 'line', data: s.bandX.map((x, i) => ({ x, y: s.lower[i] })), borderColor: 'rgba(0,0,0,0)', borderWidth: 0,
          pointRadius: 0, fill: false, tension: 0.35, order: 3,
        },
        {
          data: s.pts.map(([x, y]) => ({ x, y })), backgroundColor: 'rgba(0,0,0,0.5)', borderWidth: 0,
          pointRadius: 3.6, pointHoverRadius: 3.6, order: 4,
        },
      ],
    },
    options: {
      responsive: false,
      animation: false,
      devicePixelRatio: 1,
      events: [],
      layout: { padding: { left: 0, top: s.area.top, right: s.cw - s.area.right, bottom: 0 } },
      plugins: { legend: { display: false }, tooltip: { enabled: false }, title: { display: false } },
      scales: {
        x: {
          type: 'linear', min: s.xMin, max: s.xMax,
          afterBuildTicks: (sc: any) => { sc.ticks = s.xTicks.map((v) => ({ value: v })); },
          afterFit: (sc: any) => { sc.height = xH; },
          border: { display: false },
          grid: {
            color: '#EBEBEB',
            lineWidth: (c: any) => (c.tick && isMaj(s.xMajor, c.tick.value) ? 1.4 : 0.7),
            drawTicks: true, tickLength: 5, tickWidth: 1.2,
            tickColor: (c: any) => (c.tick && isMaj(s.xMajor, c.tick.value) ? '#333333' : 'rgba(0,0,0,0)'),
          },
          ticks: {
            autoSkip: false, maxRotation: 0, minRotation: 0, padding: 2, color: '#4D4D4D',
            font: { size: 16.5, family: FONT },
            callback: (v: number) => (isMaj(s.xMajor, v) ? Number(v).toFixed(2) : ''),
          },
        },
        y: {
          type: 'linear', min: s.yMin, max: s.yMax,
          afterBuildTicks: (sc: any) => { sc.ticks = s.yTicks.map((v) => ({ value: v })); },
          afterFit: (sc: any) => { sc.width = s.area.left; },
          border: { display: false },
          grid: {
            color: '#EBEBEB',
            lineWidth: (c: any) => (c.tick && isMaj(s.yMajor, c.tick.value) ? 1.4 : 0.7),
            drawTicks: left, tickLength: 39, tickWidth: 1.2,
            tickColor: (c: any) => (left && c.tick && isMaj(s.yMajor, c.tick.value) ? '#333333' : 'rgba(0,0,0,0)'),
          },
          ticks: {
            display: left, padding: 4, color: '#4D4D4D', font: { size: 16.5, family: FONT },
            callback: (v: number) => (isMaj(s.yMajor, v) ? String(v) : ''),
          },
        },
      },
    },
    plugins: [makeDecor(s)],
  };
}

function PanelChart({ spec }: { spec: Spec }) {
  const ref = useRef<HTMLCanvasElement>(null);
  useEffect(() => {
    const chart = new Chart(ref.current as HTMLCanvasElement, buildConfig(spec));
    return () => chart.destroy();
  }, [spec]);
  return (
    <canvas
      ref={ref}
      width={spec.cw}
      height={spec.ch}
      style={{ position: 'absolute', left: spec.cx, top: spec.cy, width: spec.cw, height: spec.ch }}
    />
  );
}

export default function App() {
  return (
    <div style={{ position: 'absolute', left: 0, top: 0, width: 800, height: 1414, background: '#FFFFFF', overflow: 'hidden' }}>
      {specs.map((s, i) => (
        <PanelChart key={i} spec={s} />
      ))}
    </div>
  );
}
